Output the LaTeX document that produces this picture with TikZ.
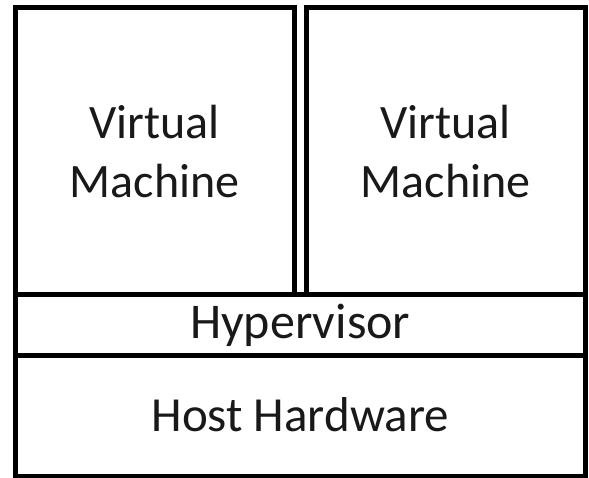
\documentclass[tikz,border=0pt]{standalone}
\usepackage{fontspec}
\setmainfont{Carlito}
\usetikzlibrary{positioning}
\tikzset{
  layerbox/.style={draw=black, line width=5pt, rectangle, inner sep=0pt, outer sep=0pt, align=center, text=black!90},
  vmfont/.style={font=\fontsize{48}{59}\selectfont},
}
\begin{document}
\begin{tikzpicture}[x=1pt,y=1pt]
\useasboundingbox (0,0) rectangle (589,477);
\fill[white] (0,0) rectangle (589,477);
\node[layerbox, vmfont, minimum width=279.5pt, minimum height=287.5pt] (vm1) at (154.75,325.75) {Virtual\\Machine};
\node[layerbox, vmfont, minimum width=279.5pt, minimum height=287.5pt] (vm2) at (445.75,325.75) {Virtual\\Machine};
\node[layerbox, minimum width=570.5pt, minimum height=60.5pt, font=\fontsize{50}{60}\selectfont] (hyp) at (300.25,151.75) {\raisebox{-3pt}{Hypervisor}};
\node[layerbox, minimum width=570.5pt, minimum height=120.5pt, font=\fontsize{49}{59}\selectfont] (host) at (300.25,61.25) {\raisebox{2pt}{Host Hardware}};
\end{tikzpicture}
\end{document}
